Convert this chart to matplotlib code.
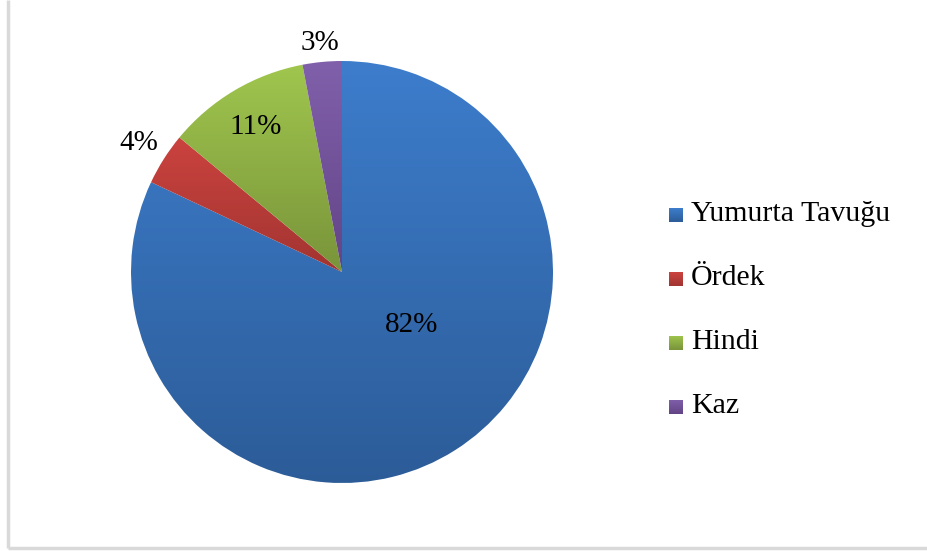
import numpy as np
import matplotlib.pyplot as plt
from matplotlib.colors import LinearSegmentedColormap
from matplotlib.lines import Line2D

labels = ['Yumurta Tavuğu', 'Ördek', 'Hindi', 'Kaz']
values = [82, 4, 11, 3]
colors_top = ['#3d7dcc', '#cb433f', '#a0c64e', '#8160ab']
colors_bottom = ['#2c5c98', '#a23431', '#79943a', '#624486']

plt.rcParams['font.family'] = ['Liberation Serif', 'DejaVu Serif']

W, H = 928, 551
fig = plt.figure(figsize=(W / 100, H / 100), dpi=100)

# chart frame (only left and bottom edges fall inside the image)
fx, fy = 7.5 / W, 1 - 547.5 / H
fig.lines.append(Line2D([fx, fx], [fy, 1.0], transform=fig.transFigure,
                        color='#d9d9d9', linewidth=2.5, solid_capstyle='butt'))
fig.lines.append(Line2D([fx, 1.0], [fy, fy], transform=fig.transFigure,
                        color='#d9d9d9', linewidth=2.5, solid_capstyle='butt'))

cx, cy, R = 342, 272, 211
ax = fig.add_axes([(cx - R) / W, (H - cy - R) / H, 2 * R / W, 2 * R / H])

wedges, _ = ax.pie(values, startangle=90, counterclock=False, radius=1,
                   wedgeprops=dict(linewidth=0))

# vertical gradient fill for every slice, spread over its own height
for w, ct, cb in zip(wedges, colors_top, colors_bottom):
    w.set_facecolor('none')
    verts = w.get_path().vertices
    ymin, ymax = verts[:, 1].min(), verts[:, 1].max()
    cmap = LinearSegmentedColormap.from_list('g', [cb, ct])
    grad = np.linspace(0, 1, 256).reshape(-1, 1)
    im = ax.imshow(grad, cmap=cmap, origin='lower', aspect='auto',
                   extent=(-1, 1, ymin, ymax), interpolation='bilinear')
    im.set_clip_path(w)
ax.set_xlim(-1, 1)
ax.set_ylim(-1, 1)
ax.set_aspect('equal')
ax.axis('off')

# percentage labels
total = sum(values)
label_r = [None, 1.14, 0.8, 1.09]
start = 90
for v, r, w in zip(values, label_r, wedges):
    mid = np.deg2rad(start - v / total * 360 / 2)
    start -= v / total * 360
    if r is None:
        x, y = 0.33, -0.25
    else:
        x, y = r * np.cos(mid), r * np.sin(mid)
    ax.text(x, y, f'{v}%', ha='center', va='center', fontsize=21,
            color='black', clip_on=False)

# legend
for i, (lab, ct, cb) in enumerate(zip(labels, colors_top, colors_bottom)):
    base = 221 + i * 64
    sq = fig.add_axes([669 / W, 1 - (base + 1) / H, 14 / W, 14 / H])
    sq.imshow(np.linspace(0, 1, 32).reshape(-1, 1),
              cmap=LinearSegmentedColormap.from_list('l', [cb, ct]),
              origin='lower', aspect='auto', extent=(0, 1, 0, 1))
    sq.axis('off')
    fig.text(691 / W, 1 - base / H, lab, fontsize=21.5, ha='left',
             va='baseline', color='black')

fig.savefig('out.png', dpi=100)
